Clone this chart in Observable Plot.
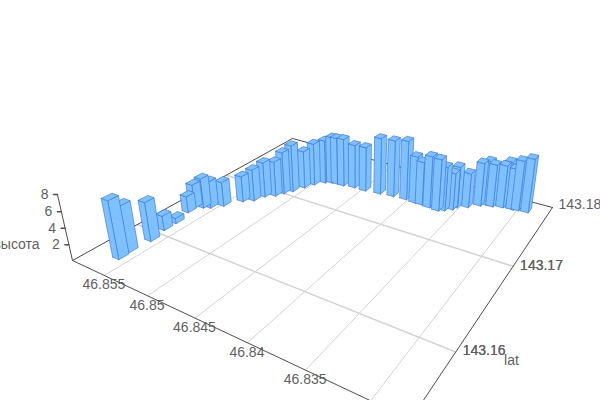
<!DOCTYPE html>
<html><head><meta charset="utf-8">
<script src="https://cdn.jsdelivr.net/npm/d3@7"></script>
<script src="https://cdn.jsdelivr.net/npm/@observablehq/plot@0.6"></script>
<style>body{margin:0;background:#fff;overflow:hidden}</style></head><body>
<div id="c"></div>
<script>
const lat=[46.8562,46.8563,46.8561,46.8565,46.8565,46.8570,46.8571,46.8564,46.8558,46.8550,46.8540,46.8532,46.8528,46.8520,46.8516,46.8511,46.8506,46.8501,46.8494,46.8487,46.8482,46.8474,46.8462,46.8449,46.8433,46.8419,46.8405,46.8394,46.8387,46.8378,46.8368,46.8363,46.8357,46.8355,46.8346,46.8337,46.8331,46.8326,46.8317,46.8313,46.8307,46.8302,46.8293];
const lon=[143.1565,143.1574,143.1593,143.1609,143.1621,143.1638,143.1646,143.1650,143.1653,143.1661,143.1675,143.1681,143.1691,143.1697,143.1704,143.1711,143.1722,143.1731,143.1739,143.1742,143.1743,143.1743,143.1745,143.1745,143.1747,143.1749,143.1750,143.1749,143.1749,143.1748,143.1747,143.1750,143.1755,143.1760,143.1765,143.1773,143.1777,143.1777,143.1780,143.1782,143.1781,143.1782,143.1783];
const heights=[7.2,5.9,5.0,1.9,0.7,2.2,3.2,4.0,3.6,3.3,3.5,4.3,4.8,4.8,5.8,6.5,5.2,5.9,6.1,6.6,6.6,6.7,6.1,6.2,7.8,7.8,8.1,6.4,5.9,7.0,7.0,6.0,5.0,5.6,4.7,5.9,6.1,5.8,5.8,6.3,5.6,6.8,7.3];
const latTicks=[46.855,46.85,46.845,46.84,46.835,46.83];
const lonTicks=[143.16,143.17,143.18];
const heightTicks=[2,4,6,8];
const latRange=[46.859,46.8272],lonRange=[143.1543,143.1798];
const barLat=0.00078,barLon=0.00088;
// camera: where the floor's four corners and the vertical vanishing point land
const P=[[72,260],[410,419],[552,207],[292,138]],VP=[355,1500];
const [p0,p1,p2,p3]=P;
const dx1=p1[0]-p2[0],dy1=p1[1]-p2[1],dx2=p3[0]-p2[0],dy2=p3[1]-p2[1];
const sx=p0[0]-p1[0]+p2[0]-p3[0],sy=p0[1]-p1[1]+p2[1]-p3[1];
const den=dx1*dy2-dx2*dy1;
const g=(sx*dy2-dx2*sy)/den,h=(dx1*sy-sx*dy1)/den;
const H=[[p1[0]-p0[0]+g*p1[0],p3[0]-p0[0]+h*p3[0],p0[0]],[p1[1]-p0[1]+g*p1[1],p3[1]-p0[1]+h*p3[1],p0[1]],[g,h,1]];
const kz=(260-194)/(8*(194-VP[1]));
const S=l=>(l-latRange[0])/(latRange[1]-latRange[0]),T=l=>(l-lonRange[0])/(lonRange[1]-lonRange[0]);
function pr(la,lo,z){const s=S(la),t=T(lo);const w=[0,1,2].map(k=>H[k][0]*s+H[k][1]*t+H[k][2]);const q=z*kz;return {x:(w[0]+q*VP[0])/(w[2]+q),y:(w[1]+q*VP[1])/(w[2]+q)};}
const depth=b=>H[2][0]*S(b.la)+H[2][1]*T(b.lo)+1;
const bars=lat.map((la,i)=>({la,lo:lon[i],z:heights[i]})).sort((a,b)=>depth(b)-depth(a));
const fs=[];let id=0;
const face=pts=>{id++;[...pts,pts[0]].forEach(p=>fs.push({...pr(...p),id}));};
for(const b of bars){const a0=b.la+barLat/2,a1=b.la-barLat/2,o0=b.lo-barLon/2,o1=b.lo+barLon/2;
 face([[a1,o0,0],[a1,o1,0],[a1,o1,b.z],[a1,o0,b.z]]);
 face([[a0,o0,0],[a1,o0,0],[a1,o0,b.z],[a0,o0,b.z]]);
 face([[a0,o0,b.z],[a1,o0,b.z],[a1,o1,b.z],[a0,o1,b.z]]);
}
const [L0,L1]=latRange,[O0,O1]=lonRange;
const seg=(a,b,i)=>[{...pr(...a),i},{...pr(...b),i}];
const edges=[...seg([L0,O0,0],[L1,O0,0],0),...seg([L1,O0,0],[L1,O1,0],1),...seg([L1,O1,0],[L0,O1,0],2),...seg([L0,O1,0],[L0,O0,0],3),...seg([L0,O0,0],[L0,O0,8],4)];
const latGrid=latTicks.flatMap((l,i)=>seg([l,O0,0],[l,O1,0],i));
const lonGrid=lonTicks.slice(0,2).flatMap((l,i)=>seg([L0,l,0],[L1,l,0],i));
const zt=heightTicks.flatMap(z=>{const q=pr(L0,O0,z);return [{...q,z},{x:q.x-4,y:q.y,z}]});
const ztl=heightTicks.map(z=>{const q=pr(L0,O0,z);return {x:q.x-9,y:q.y,z}});
const latL=latTicks.slice(0,5).map(l=>{const q=pr(l,O0,0);return {x:q.x-.5,y:q.y+9.5,l}});
const lonL=lonTicks.map(l=>{const q=pr(L1,Math.min(l,O1),0);return {x:q.x+(l===143.18?6:7),y:q.y-(l===143.18?3:1),l}});
const lc="#5f5f5f";
document.getElementById("c").append(Plot.plot({width:600,height:400,margin:0,x:{domain:[0,600],range:[0,600],axis:null},y:{domain:[0,400],range:[0,400],axis:null},style:{fontFamily:"Arial, 'Liberation Sans', sans-serif",background:"#fff"},marks:[
 Plot.line(latGrid,{x:"x",y:"y",z:"i",stroke:"#D3D3D3",strokeWidth:1}),
 Plot.line(lonGrid,{x:"x",y:"y",z:"i",stroke:"#D3D3D3",strokeWidth:1.5}),
 Plot.line(edges,{x:"x",y:"y",z:"i",stroke:"#4d4d4d",strokeWidth:1}),
 Plot.line(zt,{x:"x",y:"y",z:"z",stroke:"#4d4d4d"}),
 Plot.text(ztl,{x:"x",y:"y",text:"z",textAnchor:"end",fontSize:14,fill:lc}),
 Plot.text(latL,{x:"x",y:"y",text:d=>String(d.l),fontSize:14,fill:lc}),
 Plot.text(lonL,{x:"x",y:"y",text:d=>String(d.l),textAnchor:"start",fontSize:14,fill:lc}),
 Plot.text(lonL.slice(0,2),{x:"x",y:"y",text:d=>String(d.l),textAnchor:"start",fontSize:14,fill:lc}),
 Plot.text(["высота"],{x:()=>16,y:()=>244,text:d=>d,fontSize:14,fill:lc}),
 Plot.text(["lat"],{x:()=>511,y:()=>360,text:d=>d,fontSize:14,fill:lc}),
 Plot.line(fs,{x:"x",y:"y",z:"id",fill:"#7DC1FF",stroke:"#3D75DC",strokeWidth:.65})
]}));
</script></body></html>
